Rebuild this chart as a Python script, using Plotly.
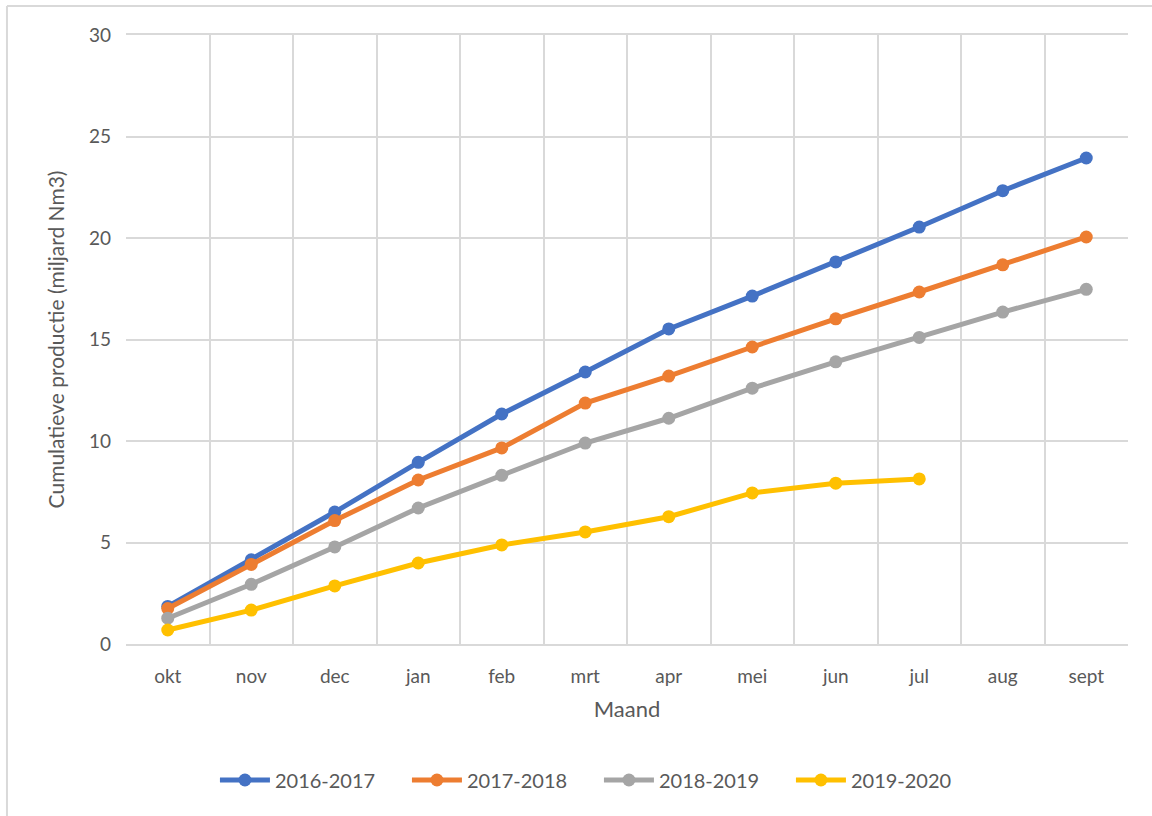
import plotly.graph_objects as go

months = ["okt", "nov", "dec", "jan", "feb", "mrt", "apr", "mei", "jun", "jul", "aug", "sept"]
s2016 = [1.85, 4.15, 6.5, 8.95, 11.33, 13.4, 15.52, 17.14, 18.82, 20.54, 22.33, 23.94]
s2017 = [1.75, 3.92, 6.08, 8.08, 9.66, 11.87, 13.2, 14.63, 16.02, 17.34, 18.68, 20.05]
s2018 = [1.27, 2.94, 4.78, 6.7, 8.31, 9.9, 11.12, 12.6, 13.9, 15.1, 16.35, 17.47]
s2019 = [0.69, 1.67, 2.86, 3.99, 4.88, 5.52, 6.27, 7.44, 7.92, 8.13]
names = ["2016-2017", "2017-2018", "2018-2019", "2019-2020"]
colors = ["#4472C4", "#ED7D31", "#A5A5A5", "#FFC000"]

fig = go.Figure()
for name, vals, col in zip(names, [s2016, s2017, s2018, s2019], colors):
    fig.add_trace(go.Scatter(
        x=months[:len(vals)], y=vals, name=name, mode="lines+markers",
        line=dict(color=col, width=5), marker=dict(color=col, size=13),
    ))

fontfam = "Lato, Open Sans, sans-serif"
fig.update_layout(
    width=1152, height=816,
    margin=dict(l=126, r=24, t=35, b=172),
    paper_bgcolor="white", plot_bgcolor="white",
    font=dict(family=fontfam, size=19, color="#595959"),
    showlegend=True,
    legend=dict(orientation="h", x=0.472, xanchor="center", y=-0.2233, yanchor="middle",
                font=dict(size=20, color="#595959"), itemwidth=50, tracegroupgap=0,
                entrywidth=127),
    xaxis=dict(
        type="category", categoryorder="array", categoryarray=months,
        range=[-0.5, 11.5], tickson="boundaries", showgrid=True,
        gridcolor="#d9d9d9", gridwidth=1.5, ticks="", ticklen=0,
        showline=True, linecolor="#d9d9d9", linewidth=1.5, mirror=True,
        ticklabelstandoff=14,
        title=dict(text="Maand", font=dict(size=22, color="#595959"), standoff=16),
        tickfont=dict(size=19, color="#595959"),
    ),
    yaxis=dict(
        range=[0, 30], dtick=5, showgrid=True, gridcolor="#d9d9d9", gridwidth=1.5,
        zeroline=False, showline=False, ticks="", ticklabelstandoff=14,
        title=dict(text="Cumulatieve productie (miljard Nm3)", font=dict(size=21, color="#595959"), standoff=18),
        tickfont=dict(size=19, color="#595959"),
    ),
)
# outer chart frame (left and top edges)
fig.add_shape(type="line", xref="paper", yref="paper", x0=-0.1188, x1=-0.1188, y0=1.0476, y1=-0.30,
              line=dict(color="#d9d9d9", width=2))
fig.add_shape(type="line", xref="paper", yref="paper", x0=-0.1188, x1=1.03, y0=1.0476, y1=1.0476,
              line=dict(color="#d9d9d9", width=2))

fig.write_html("out.html", config={"displayModeBar": False},
               post_script="document.body.style.margin='0';")
